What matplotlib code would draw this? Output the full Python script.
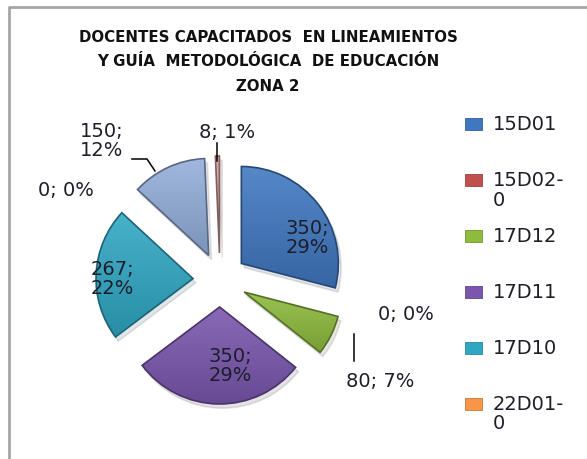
import matplotlib
matplotlib.use("Agg")
import matplotlib.pyplot as plt
import matplotlib.colors as mcolors
import numpy as np
from matplotlib.patches import Rectangle, Shadow
from matplotlib.lines import Line2D

# data (clockwise from 12 o'clock)
categories = ['15D01', '15D02-0', '17D12', '17D11', '17D10', '22D01-0', 'serie 7', 'serie 8']
slice_values = [350, 0, 80, 350, 267, 0, 150, 8]
legend_labels = ['15D01', '15D02-\n0', '17D12', '17D11', '17D10', '22D01-\n0']
slice_colors = ['#3F77C0', '#C0504D', '#8DBB3C', '#7A56AE', '#2FA7C4', '#F79646',
                '#93AEDA', '#D9A0A0']
legend_colors = ['#3F77C0', '#C0504D', '#8DBB3C', '#7A56AE', '#2FA7C4', '#F79646']

W, H = 587, 460
FONT = 'DejaVu Sans'
TXT = '#1e1e2a'

fig = plt.figure(figsize=(W / 100, H / 100), dpi=100)
ax = fig.add_axes([0, 0, 1, 1])


def py(y):
    # pixel row (from the top) to data y
    return H - y


center = (220, py(281))
radius = 97
wedges, _ = ax.pie(slice_values, colors=slice_colors, startangle=90, counterclock=False,
                   center=center, radius=radius, explode=[27] * len(slice_values),
                   wedgeprops=dict(linewidth=1.2), normalize=True,
                   shadow=dict(ox=2, oy=-3, alpha=0.12))

zero = [w for w, v in zip(wedges, slice_values) if v == 0]
for p in ax.patches:
    if p in zero or (isinstance(p, Shadow) and p.patch in zero):
        p.set_visible(False)

# excel style bevel: slight gradient and a darker rim
for w, c, v in zip(wedges, slice_colors, slice_values):
    if v == 0:
        continue
    base = np.array(mcolors.to_rgb(c))
    light = base + (1 - base) * 0.12
    dark = base * 0.85
    w.set_edgecolor(base * 0.6)
    bb = w.get_path().get_extents(w.get_transform() - ax.transData)
    t = np.linspace(0, 1, 64)[:, None]
    grad = light[None, :] * (1 - t) + dark[None, :] * t
    img = ax.imshow(grad[:, None, :], extent=(bb.x0, bb.x1, bb.y0, bb.y1),
                    origin='upper', aspect='auto', zorder=w.get_zorder(),
                    interpolation='bilinear')
    img.set_clip_path(w)
    w.set_facecolor('none')
    w.set_zorder(w.get_zorder() + 0.1)

total = sum(slice_values)
pct = [round(v / total * 100) for v in slice_values]

# data labels
lab = dict(fontsize=14, family=FONT, color=TXT, ha='center', va='center',
           linespacing=1.0, zorder=5)
ax.text(307, py(238), f'{slice_values[0]};\n{pct[0]}%', **lab)
ax.text(406, py(315), f'{slice_values[1]}; {pct[1]}%', **lab)
ax.text(380, py(382), f'{slice_values[2]}; {pct[2]}%', **lab)
ax.text(230, py(366), f'{slice_values[3]};\n{pct[3]}%', **lab)
ax.text(112, py(279), f'{slice_values[4]};\n{pct[4]}%', **lab)
ax.text(66, py(190), f'{slice_values[5]}; {pct[5]}%', **lab)
ax.text(102, py(141), f'{slice_values[6]};\n{pct[6]}%', **lab)
ax.text(227, py(133), f'{slice_values[7]}; {pct[7]}%', **lab)

# leader lines
lk = dict(color='black', linewidth=1.1, zorder=5)
ax.plot([132, 147, 155], [py(160), py(160), py(172)], **lk)
ax.plot([217, 217], [py(144), py(162)], **lk)
ax.plot([354, 354], [py(335), py(362)], **lk)

# legend drawn by hand so the swatch sits on the first line
row_y = 125
for lbl, c in zip(legend_labels, legend_colors):
    ax.add_patch(Rectangle((465, py(row_y) - 6), 17, 12, facecolor=c,
                           edgecolor=np.array(mcolors.to_rgb(c)) * 0.8, linewidth=0.6))
    ax.text(493, py(row_y) + 9.5, lbl, fontsize=14, family=FONT, color=TXT,
            ha='left', va='top', linespacing=1.0)
    row_y += 56

# title
ax.text(268, py(62), 'DOCENTES CAPACITADOS  EN LINEAMIENTOS\n'
        'Y GUÍA  METODOLÓGICA  DE EDUCACIÓN\nZONA 2',
        fontsize=10.8, family=FONT, fontweight='bold', color='#111111',
        ha='center', va='center', linespacing=1.82)

# chart frame (only top and left are inside the crop)
ax.add_line(Line2D([9, 9, W + 10], [-10, py(8), py(8)], color='#a6a6a6', linewidth=2,
                   clip_on=False))

ax.set_xlim(0, W)
ax.set_ylim(0, H)
ax.set_aspect('equal')
ax.axis('off')

fig.savefig('out.png', dpi=100, facecolor='white')
